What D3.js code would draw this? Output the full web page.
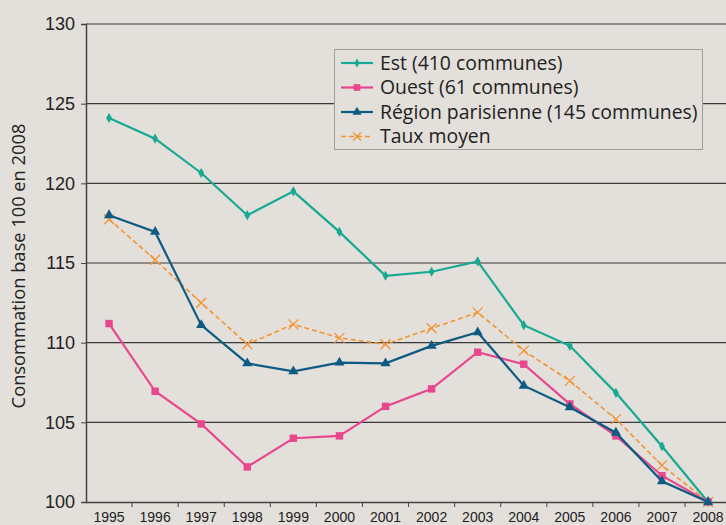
<!DOCTYPE html>
<html>
<head>
<meta charset="utf-8">
<script src="https://cdn.jsdelivr.net/npm/d3@7"></script>
<style>
  body { margin: 0; background: #e3dfda; }
  svg { display: block; font-family: "Open Sans", "Noto Sans", sans-serif; }
</style>
</head>
<body>
<svg id="chart" width="726" height="525"></svg>
<script>
// Consommation base 100 en 2008
const years = ['1995','1996','1997','1998','1999','2000','2001','2002','2003','2004','2005','2006','2007','2008'];
const est = [124.1, 122.8, 120.65, 118.0, 119.5, 116.95, 114.2, 114.45, 115.1, 111.1, 109.8, 106.85, 103.5, 100];
const ouest = [111.2, 106.95, 104.9, 102.2, 104.0, 104.15, 106.0, 107.1, 109.4, 108.65, 106.15, 104.15, 101.65, 100];
const region = [118.0, 116.95, 111.1, 108.7, 108.2, 108.75, 108.7, 109.8, 110.65, 107.3, 105.95, 104.35, 101.3, 100];
const taux = [117.75, 115.2, 112.5, 109.9, 111.15, 110.3, 109.9, 110.9, 111.9, 109.5, 107.6, 105.2, 102.3, 100];
const yTicks = [100, 105, 110, 115, 120, 125, 130];

const series = [
  { name: 'Est (410 communes)', values: est, color: '#17a991', symbol: 'diamond' },
  { name: 'Ouest (61 communes)', values: ouest, color: '#e8468d', symbol: 'square' },
  { name: 'Région parisienne (145 communes)', values: region, color: '#0d5b82', symbol: 'triangle' },
  { name: 'Taux moyen', values: taux, color: '#f39433', symbol: 'cross', dashed: true }
];

const svg = d3.select('#chart');
const plotLeft = 86, plotTop = 24, plotBottom = 502;

const x = d3.scaleBand().domain(years).range([plotLeft, plotLeft + 14 * 46.08]);
const y = d3.scaleLinear().domain([100, 130]).range([plotBottom, plotTop]);
const cx = d => x(d) + x.bandwidth() / 2;

// Gridlines
svg.append('g')
  .selectAll('line')
  .data(yTicks.slice(1))
  .enter().append('line')
  .attr('x1', plotLeft).attr('x2', 726)
  .attr('y1', d => y(d)).attr('y2', d => y(d))
  .attr('stroke', '#3a3a3a').attr('stroke-width', 1.2);

// Y axis
const yAxis = svg.append('g')
  .attr('transform', `translate(${plotLeft},0)`)
  .call(d3.axisLeft(y).tickValues(yTicks).tickSize(5).tickPadding(6));
yAxis.select('.domain').attr('stroke', '#444').attr('stroke-width', 1.5);
yAxis.selectAll('.tick line').attr('stroke', '#444');
yAxis.selectAll('text').attr('font-size', 18).attr('fill', '#222');

// X axis
const xAxis = svg.append('g')
  .attr('transform', `translate(0,${plotBottom})`)
  .call(d3.axisBottom(x).tickSize(0).tickPadding(10));
xAxis.select('.domain').attr('stroke', '#444').attr('stroke-width', 1.5);
xAxis.selectAll('text').attr('font-size', 14).attr('fill', '#222');
// ticks at band boundaries
svg.append('g')
  .selectAll('line')
  .data(years)
  .enter().append('line')
  .attr('x1', d => x(d) + x.bandwidth()).attr('x2', d => x(d) + x.bandwidth())
  .attr('y1', plotBottom).attr('y2', plotBottom + 5)
  .attr('stroke', '#444');

// Y axis title
svg.append('text')
  .attr('transform', `translate(25,${(plotTop + plotBottom) / 2 + 3}) rotate(-90)`)
  .attr('text-anchor', 'middle')
  .attr('font-size', 18.3)
  .attr('fill', '#222')
  .text('Consommation base 100 en 2008');

// Marker drawing
function drawSymbol(sel, s, px, py, scale) {
  scale = scale || 1;
  if (s.symbol === 'diamond') {
    sel.append('path').attr('d', d3.symbol(d3.symbolDiamond, 30 * scale)())
      .attr('transform', `translate(${px},${py})`).attr('fill', s.color);
  } else if (s.symbol === 'square') {
    sel.append('path').attr('d', d3.symbol(d3.symbolSquare, 55 * scale)())
      .attr('transform', `translate(${px},${py})`).attr('fill', s.color);
  } else if (s.symbol === 'triangle') {
    sel.append('path').attr('d', d3.symbol(d3.symbolTriangle, 45 * scale)())
      .attr('transform', `translate(${px},${py})`).attr('fill', s.color);
  } else {
    const r = 5 * scale;
    sel.append('path')
      .attr('d', `M${px - r},${py - r}L${px + r},${py + r}M${px - r},${py + r}L${px + r},${py - r}`)
      .attr('stroke', s.color).attr('stroke-width', 1.3).attr('fill', 'none');
  }
}

const line = d3.line().x((d, i) => cx(years[i])).y(d => y(d));

// Taux moyen drawn first, underneath the others
const drawOrder = [series[3], series[0], series[1], series[2]];
drawOrder.forEach(s => {
  const g = svg.append('g');
  g.append('path')
    .datum(s.values)
    .attr('d', line)
    .attr('fill', 'none')
    .attr('stroke', s.color)
    .attr('stroke-width', s.dashed ? 1.6 : 2.2)
    .attr('stroke-dasharray', s.dashed ? '5,3' : null);
  s.values.forEach((v, i) => drawSymbol(g, s, cx(years[i]), y(v)));
});

// Legend
const legend = svg.append('g');
legend.append('rect')
  .attr('x', 334.5).attr('y', 49.5).attr('width', 368).attr('height', 100)
  .attr('fill', '#e3dfda').attr('stroke', '#a09c98');
series.forEach((s, i) => {
  const ly = 63 + i * 24.5;
  legend.append('line')
    .attr('x1', 341).attr('x2', 373).attr('y1', ly).attr('y2', ly)
    .attr('stroke', s.color).attr('stroke-width', s.dashed ? 1.6 : 2.2)
    .attr('stroke-dasharray', s.dashed ? '5,3' : null);
  drawSymbol(legend, s, 357, ly, 0.8);
  legend.append('text')
    .attr('x', 380).attr('y', ly + 6.8)
    .attr('font-size', 19.4).attr('fill', '#222')
    .text(s.name);
});
</script>
</body>
</html>
